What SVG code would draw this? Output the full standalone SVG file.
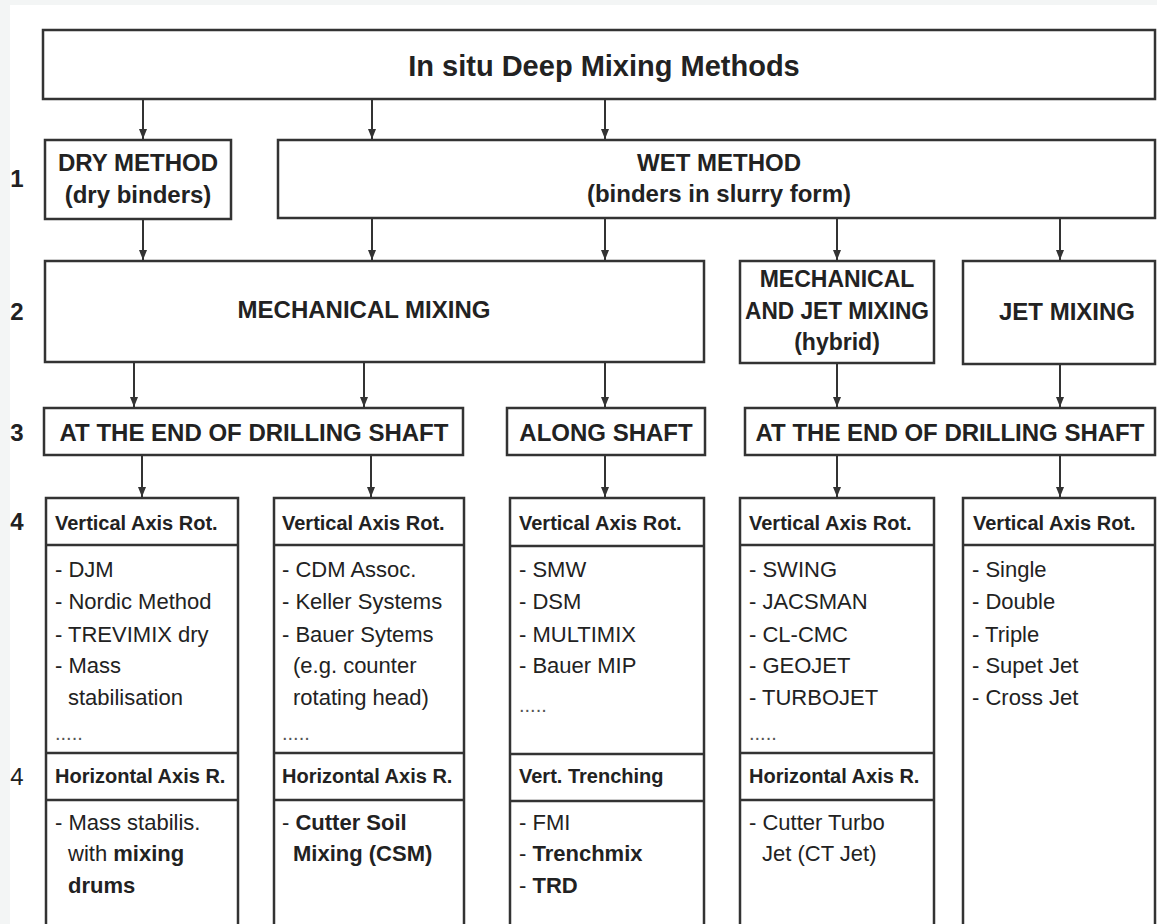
<svg xmlns="http://www.w3.org/2000/svg" width="1157" height="924" viewBox="0 0 1157 924">
<style>
text{font-family:"Liberation Sans",Arial,Helvetica,sans-serif;fill:#222}
.box{fill:#fff;stroke:#333;stroke-width:2.5}
.ln{stroke:#333;stroke-width:2.5;fill:none}
.t1{font-size:29px;font-weight:bold;text-anchor:middle}
.t2{font-size:24px;font-weight:bold;text-anchor:middle}
.t3{font-size:23px;font-weight:bold;text-anchor:middle}
.lab{font-size:24px;font-weight:bold;text-anchor:middle}
.labn{font-size:24px;text-anchor:middle}
.hd{font-size:20px;font-weight:bold}
.it{font-size:22px}
.b{font-weight:bold}
.dots{font-size:20px;fill:#555}
.con{stroke:#333;stroke-width:2;fill:none;marker-end:url(#arr)}
</style>
<defs>
<marker id="arr" viewBox="0 0 8 10" markerWidth="8" markerHeight="10" refX="4" refY="10" orient="0" markerUnits="userSpaceOnUse">
<path d="M0,0 L8,0 L4,10 z" fill="#333"/>
</marker>
</defs>
<rect x="0" y="0" width="1157" height="924" fill="#f3f5f5"/>
<rect x="10" y="5" width="1147" height="919" fill="#fff"/>

<g id="labels">
<text class="lab" x="17" y="187">1</text>
<text class="lab" x="17" y="320">2</text>
<text class="lab" x="17" y="441">3</text>
<text class="lab" x="17" y="530">4</text>
<text class="labn" x="17" y="785">4</text>
</g>

<g id="connectors">
<line class="con" x1="143" y1="100" x2="143" y2="139"/>
<line class="con" x1="372" y1="100" x2="372" y2="139"/>
<line class="con" x1="605" y1="100" x2="605" y2="139"/>
<line class="con" x1="143" y1="220" x2="143" y2="260"/>
<line class="con" x1="372" y1="219" x2="372" y2="260"/>
<line class="con" x1="605" y1="219" x2="605" y2="260"/>
<line class="con" x1="837" y1="219" x2="837" y2="260"/>
<line class="con" x1="1060" y1="219" x2="1060" y2="260"/>
<line class="con" x1="134" y1="363" x2="134" y2="407"/>
<line class="con" x1="364" y1="363" x2="364" y2="407"/>
<line class="con" x1="605" y1="363" x2="605" y2="407"/>
<line class="con" x1="837" y1="364" x2="837" y2="407"/>
<line class="con" x1="1060" y1="365" x2="1060" y2="407"/>
<line class="con" x1="142" y1="456" x2="142" y2="497"/>
<line class="con" x1="371" y1="456" x2="371" y2="497"/>
<line class="con" x1="605" y1="456" x2="605" y2="497"/>
<line class="con" x1="837" y1="456" x2="837" y2="497"/>
<line class="con" x1="1060" y1="456" x2="1060" y2="497"/>
</g>

<g id="n-root">
<rect class="box" x="43" y="30" width="1112" height="69"/>
<text class="t1" x="604" y="76">In situ Deep Mixing Methods</text>
</g>

<g id="n-dry">
<rect class="box" x="45" y="140" width="186" height="79"/>
<text class="t2" x="138" y="171">DRY METHOD</text>
<text class="t2" x="138" y="203">(dry binders)</text>
</g>

<g id="n-wet">
<rect class="box" x="278" y="140" width="877" height="78"/>
<text class="t2" x="719" y="171">WET METHOD</text>
<text class="t2" x="719" y="202">(binders in slurry form)</text>
</g>

<g id="n-mech">
<rect class="box" x="45" y="261" width="659" height="101"/>
<text class="t2" x="364" y="318">MECHANICAL MIXING</text>
</g>

<g id="n-hybrid">
<rect class="box" x="740" y="261" width="194" height="102"/>
<text class="t3" x="837" y="287">MECHANICAL</text>
<text class="t3" x="837" y="319" textLength="184" lengthAdjust="spacingAndGlyphs">AND JET MIXING</text>
<text class="t3" x="837" y="350">(hybrid)</text>
</g>

<g id="n-jet">
<rect class="box" x="963" y="261" width="192" height="103"/>
<text class="t2" x="1067" y="320">JET MIXING</text>
</g>

<g id="n-end1">
<rect class="box" x="44" y="408" width="419" height="47"/>
<text class="t2" x="254" y="441">AT THE END OF DRILLING SHAFT</text>
</g>

<g id="n-along">
<rect class="box" x="507" y="408" width="198" height="47"/>
<text class="t2" x="606" y="441">ALONG SHAFT</text>
</g>

<g id="n-end2">
<rect class="box" x="745" y="408" width="410" height="47"/>
<text class="t2" x="950" y="441">AT THE END OF DRILLING SHAFT</text>
</g>

<g id="n-col1">
<rect class="box" x="46" y="498" width="192" height="440"/>
<line class="ln" x1="46" y1="545" x2="238" y2="545"/>
<line class="ln" x1="46" y1="753" x2="238" y2="753"/>
<line class="ln" x1="46" y1="800" x2="238" y2="800"/>
<text class="hd" x="55" y="530">Vertical Axis Rot.</text>
<text class="it" x="55" y="577">- DJM</text>
<text class="it" x="55" y="609">- Nordic Method</text>
<text class="it" x="55" y="642">- TREVIMIX dry</text>
<text class="it" x="55" y="673">- Mass</text>
<text class="it" x="68" y="705">stabilisation</text>
<text class="dots" x="55" y="740">.....</text>
<text class="hd" x="55" y="783">Horizontal Axis R.</text>
<text class="it" x="55" y="830">- Mass stabilis.</text>
<text class="it" x="68" y="861">with <tspan class="b">mixing</tspan></text>
<text class="it b" x="68" y="893">drums</text>
</g>

<g id="n-col2">
<rect class="box" x="274" y="498" width="190" height="440"/>
<line class="ln" x1="274" y1="545" x2="464" y2="545"/>
<line class="ln" x1="274" y1="753" x2="464" y2="753"/>
<line class="ln" x1="274" y1="800" x2="464" y2="800"/>
<text class="hd" x="282" y="530">Vertical Axis Rot.</text>
<text class="it" x="282" y="577">- CDM Assoc.</text>
<text class="it" x="282" y="609">- Keller Systems</text>
<text class="it" x="282" y="642">- Bauer Sytems</text>
<text class="it" x="293" y="673">(e.g. counter</text>
<text class="it" x="293" y="705">rotating head)</text>
<text class="dots" x="282" y="740">.....</text>
<text class="hd" x="282" y="783">Horizontal Axis R.</text>
<text class="it" x="282" y="830">- <tspan class="b">Cutter Soil</tspan></text>
<text class="it b" x="293" y="861">Mixing (CSM)</text>
</g>

<g id="n-col3">
<rect class="box" x="510" y="498" width="194" height="440"/>
<line class="ln" x1="510" y1="546" x2="704" y2="546"/>
<line class="ln" x1="510" y1="754" x2="705" y2="754"/>
<line class="ln" x1="510" y1="801" x2="705" y2="801"/>
<text class="hd" x="519" y="530">Vertical Axis Rot.</text>
<text class="it" x="519" y="577">- SMW</text>
<text class="it" x="519" y="609">- DSM</text>
<text class="it" x="519" y="642">- MULTIMIX</text>
<text class="it" x="519" y="673">- Bauer MIP</text>
<text class="dots" x="519" y="712">.....</text>
<text class="hd" x="519" y="783">Vert. Trenching</text>
<text class="it" x="519" y="830">- FMI</text>
<text class="it" x="519" y="861">- <tspan class="b">Trenchmix</tspan></text>
<text class="it" x="519" y="893">- <tspan class="b">TRD</tspan></text>
</g>

<g id="n-col4">
<rect class="box" x="740" y="498" width="194" height="440"/>
<line class="ln" x1="740" y1="545" x2="934" y2="545"/>
<line class="ln" x1="740" y1="753" x2="934" y2="753"/>
<line class="ln" x1="740" y1="800" x2="934" y2="800"/>
<text class="hd" x="749" y="530">Vertical Axis Rot.</text>
<text class="it" x="749" y="577">- SWING</text>
<text class="it" x="749" y="609">- JACSMAN</text>
<text class="it" x="749" y="642">- CL-CMC</text>
<text class="it" x="749" y="673">- GEOJET</text>
<text class="it" x="749" y="705">- TURBOJET</text>
<text class="dots" x="749" y="740">.....</text>
<text class="hd" x="749" y="783">Horizontal Axis R.</text>
<text class="it" x="749" y="830">- Cutter Turbo</text>
<text class="it" x="762" y="861">Jet (CT Jet)</text>
</g>

<g id="n-col5">
<rect class="box" x="963" y="498" width="192" height="440"/>
<line class="ln" x1="963" y1="545" x2="1155" y2="545"/>
<text class="hd" x="973" y="530">Vertical Axis Rot.</text>
<text class="it" x="972" y="577">- Single</text>
<text class="it" x="972" y="609">- Double</text>
<text class="it" x="972" y="642">- Triple</text>
<text class="it" x="972" y="673">- Supet Jet</text>
<text class="it" x="972" y="705">- Cross Jet</text>
</g>
</svg>
